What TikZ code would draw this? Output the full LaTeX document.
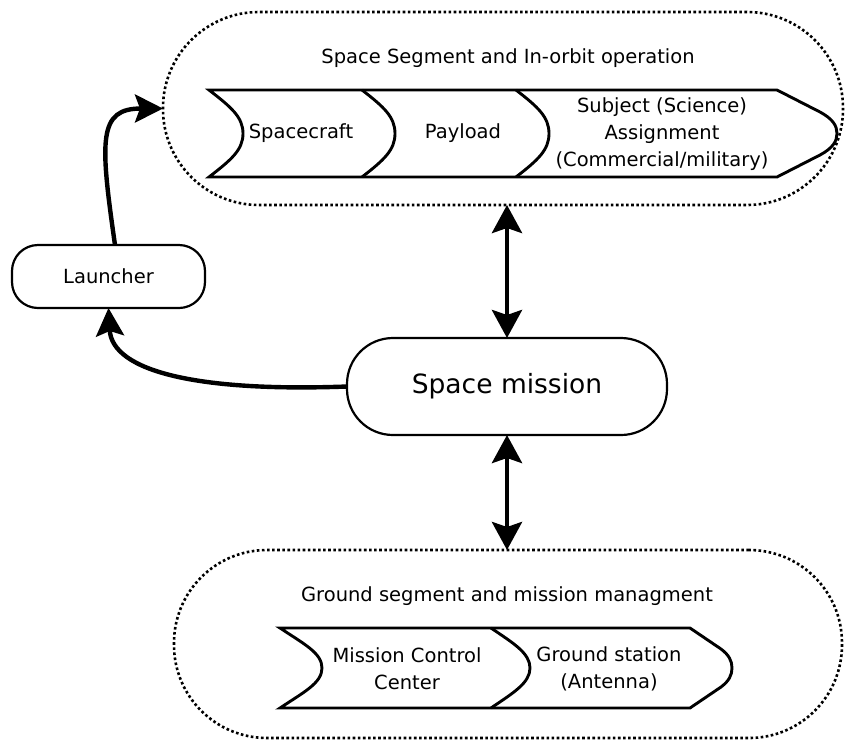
\documentclass[tikz,border=0pt]{standalone}
\usepackage{fontspec}
\setmainfont{DejaVu Sans}
\usetikzlibrary{arrows.meta}

\begin{document}
\begin{tikzpicture}[x=1pt,y=-1pt,
  every node/.style={font=\fontsize{19.5}{27}\selectfont, inner sep=0pt, outer sep=0pt},
  group/.style={draw, line width=2.6pt, dash pattern=on 2.6pt off 2.5pt, rectangle},
  pill/.style={draw, line width=2.2pt, rectangle},
  band/.style={draw, line width=2.9pt, line join=miter},
  flow/.style={line width=4.4pt, -{Stealth[length=28pt,width=28pt,inset=5pt]}},
  both/.style={line width=4.6pt, {Stealth[length=28pt,width=30pt,inset=5pt]}-{Stealth[length=28pt,width=30pt,inset=5pt]}}
]
\useasboundingbox (0,0) rectangle (846,740);

% containers
\node[group, minimum width=680pt, minimum height=193pt, rounded corners=96pt] (space) at (503,108.5) {};
\node[group, minimum width=668pt, minimum height=188pt, rounded corners=93pt] (ground) at (508,644) {};

% titles
\node (spacetitle) at (508,58) {Space Segment and In-orbit operation};
\node (groundtitle) at (507,596) {Ground segment and mission managment};

% space segment chevron band
\draw[band] (209,90) -- (777,90) -- (820,112)
  .. controls (833,119) and (837,126) .. (837,133.5)
  .. controls (837,141) and (833,148) .. (820,155)
  -- (777,177)
  -- (209,177)
  .. controls (231,160) and (243,150) .. (243,133.5)
  .. controls (243,117) and (231,107) .. cycle;
\foreach \x in {362,516}
  \draw[band] (\x,90) .. controls (\x+22,107) and (\x+33,117) .. (\x+33,133.5)
    .. controls (\x+33,150) and (\x+22,160) .. (\x,177);

\node (craft) at (301,133.5) {Spacecraft};
\node (payload) at (463,133.5) {Payload};
\node[align=center] (subject) at (662,134) {Subject (Science)\\Assignment\\(Commercial/military)};

% ground segment chevron band
\draw[band] (280,628) -- (690,628) -- (721,649)
  .. controls (729,655) and (732,661) .. (732,668)
  .. controls (732,675) and (729,681) .. (721,687)
  -- (690,708)
  -- (280,708)
  .. controls (304,692) and (322,683) .. (322,668)
  .. controls (322,653) and (304,644) .. cycle;
\draw[band] (491,628) .. controls (513,643) and (530,653) .. (530,668)
  .. controls (530,683) and (513,693) .. (491,708);

\node[align=center] (mcc) at (407,669) {Mission Control\\Center};
\node[align=center] (gs) at (609,669) {Ground station\\(Antenna)};

% launcher and mission
\node[pill, minimum width=193pt, minimum height=63pt, rounded corners=26pt] (launcher) at (108.5,276.5) {Launcher};
\node[pill, minimum width=320pt, minimum height=97pt, rounded corners=46pt,
      font=\fontsize{26.5}{30}\selectfont] (mission) at (507,386.5) {Space mission};

% connectors
\draw[both] (mission.north) -- (mission.north |- space.south);
\draw[both] (mission.south) -- (mission.south |- ground.north);
\draw[flow] ([xshift=6.5pt]launcher.north) .. controls (100,140) and (98,108.5) .. (space.west);
\draw[flow] (mission.west) .. controls (200,392) and (112,372) .. (launcher.south);
\end{tikzpicture}
\end{document}
